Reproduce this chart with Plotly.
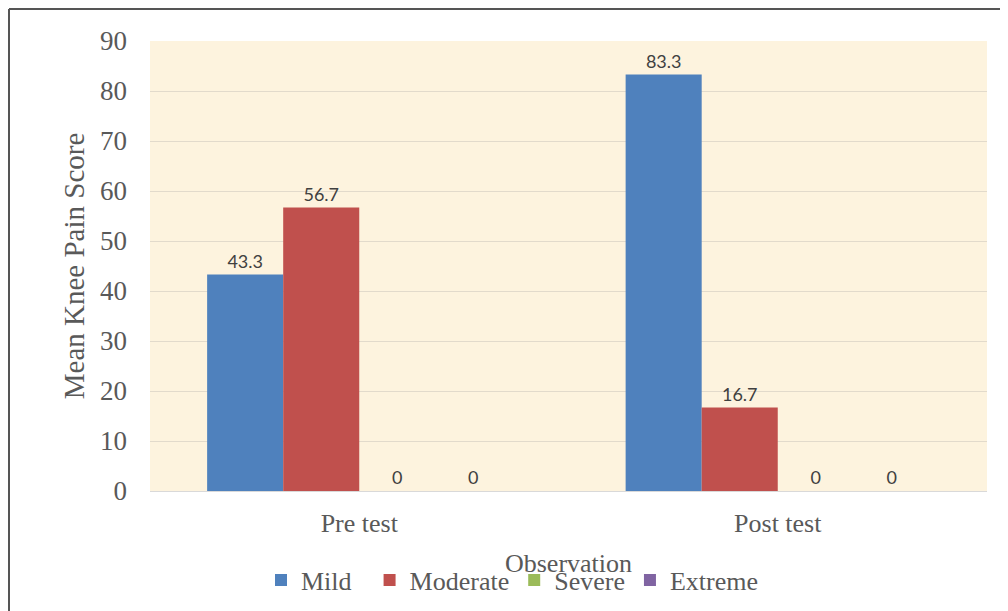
import plotly.graph_objects as go

categories = ["Pre test", "Post test"]
series_names = ["Mild", "Moderate", "Severe", "Extreme"]
mild = [43.3, 83.3]
moderate = [56.7, 16.7]
severe = [0, 0]
extreme = [0, 0]
colors = ["#4F81BD", "#C0504D", "#9BBB59", "#8064A2"]
y_ticks = [0, 10, 20, 30, 40, 50, 60, 70, 80, 90]

serif = "Liberation Serif, Times New Roman, serif"
grey = "#595959"
NBSP = "\u00a0"
# a little extra spacing after some legend entries, as in the original layout
legend_pad = {"Mild": 2, "Moderate": 0, "Severe": 0, "Extreme": 0}

fig = go.Figure()
for name, vals, col in zip(series_names, [mild, moderate, severe, extreme], colors):
    fig.add_trace(go.Bar(
        name=name + NBSP * legend_pad[name], x=categories, y=vals,
        marker_color=col, marker_line_width=0,
        text=[f"{v:g}" for v in vals], textposition="outside", cliponaxis=False,
        textfont=dict(family="Lato, Open Sans, sans-serif", size=18, color="#404040"),
        hovertemplate=name + ": %{y}<extra></extra>",
    ))

# the page body has an 8px margin, so the figure origin sits at (8, 8)
W, H = 1000, 603
ml, mr, mt, mb = 142, 21, 33, 120
pw, ph = W - ml - mr, H - mt - mb

def px_x(p):
    return (p - ml) / pw

def px_y(p):
    return (H - mb - p) / ph

fig.update_layout(
    width=W, height=H,
    margin=dict(l=ml, r=mr, t=mt, b=mb, autoexpand=False),
    paper_bgcolor="white",
    plot_bgcolor="#FDF3DE",
    barmode="group", bargap=0.273, bargroupgap=0,
    showlegend=True,
    legend=dict(orientation="h", x=px_x(253), xanchor="left", y=px_y(572), yanchor="middle",
                font=dict(family=serif, size=26, color=grey),
                itemwidth=30, traceorder="normal", bgcolor="rgba(0,0,0,0)"),
    font=dict(family=serif, color=grey),
    xaxis=dict(
        tickfont=dict(family=serif, size=26, color=grey),
        title=dict(text="Observation", font=dict(family=serif, size=26, color=grey), standoff=16),
        showline=True, linecolor="#D9D9D9", linewidth=1, ticks="", ticklabelstandoff=9,
        range=[-0.5, 1.5], automargin=False,
    ),
    yaxis=dict(
        range=[0, 90], tickvals=y_ticks,
        tickfont=dict(family=serif, size=27, color=grey),
        title=dict(text="Mean Knee Pain Score", font=dict(family=serif, size=29, color=grey), standoff=6),
        showgrid=True, gridcolor="#E2DACB", gridwidth=1,
        zeroline=False, ticks="", ticklabelstandoff=22, automargin=False,
    ),
    shapes=[
        dict(type="line", xref="paper", yref="paper", x0=px_x(1), x1=px_x(W), y0=px_y(1), y1=px_y(1),
             line=dict(color="#555555", width=2)),
        dict(type="line", xref="paper", yref="paper", x0=px_x(1), x1=px_x(1), y0=px_y(1), y1=px_y(H),
             line=dict(color="#555555", width=2)),
    ],
)

fig.write_html("out.html")
